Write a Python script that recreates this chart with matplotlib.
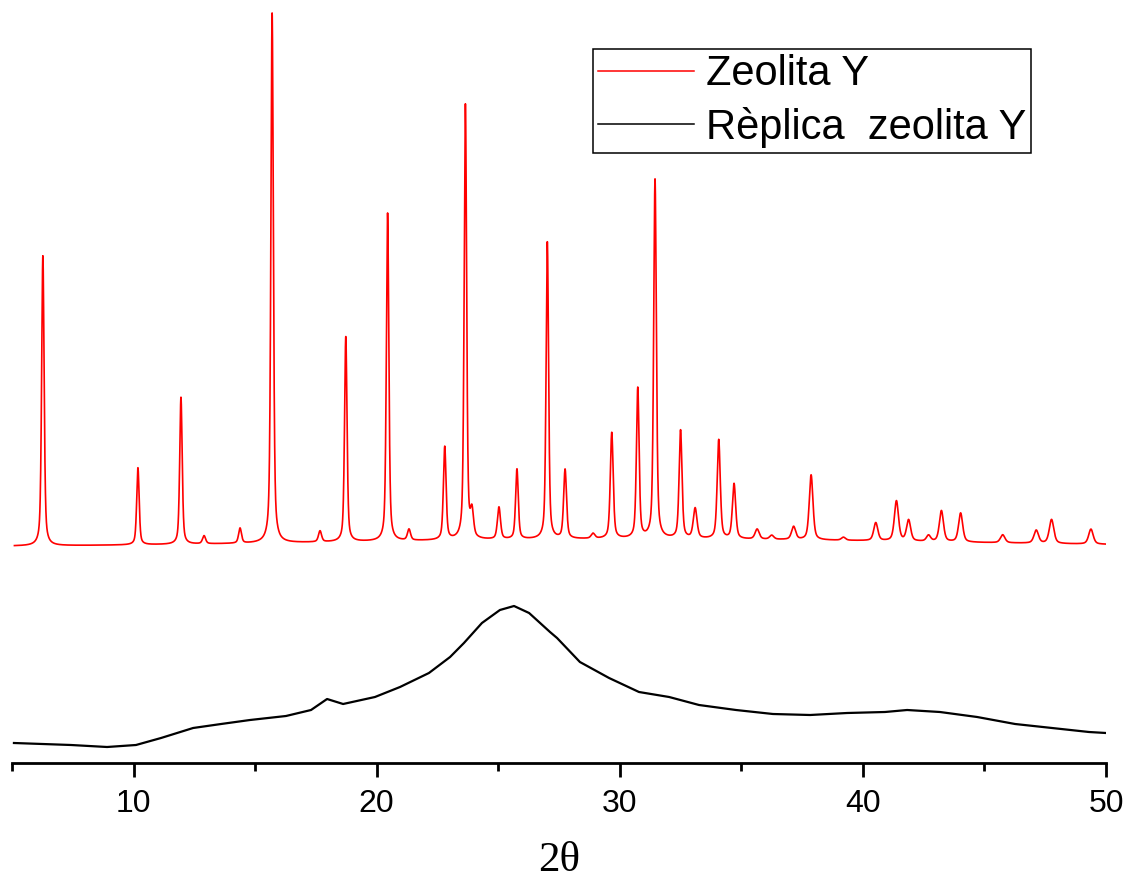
"""
XRD patterns: Zeolita Y vs Replica zeolita Y
"""

import numpy as np
import matplotlib

matplotlib.use("Agg")
import matplotlib.pyplot as plt

# Zeolita Y: peak list (2theta, height, FWHM)
zeo_pos = [6.27, 10.18, 11.95, 12.90, 14.38, 15.70, 17.67, 18.73, 20.45, 21.33,
           22.80, 23.65, 23.92, 25.03, 25.77, 27.02, 27.75, 28.90, 29.67, 30.74,
           31.45, 32.50, 33.10, 34.07, 34.70, 35.65, 36.25, 37.15, 37.87, 39.20,
           40.53, 41.38, 41.88, 42.70, 43.23, 44.02, 45.75, 47.13, 47.76, 49.38]
zeo_hgt = [290, 77, 147, 8, 15, 530, 11, 205, 328, 11,
           93, 435, 25, 32, 70, 297, 69, 5, 106, 150,
           359, 108, 30, 99, 55, 10, 4, 13, 65, 3,
           18, 40, 21, 6, 31, 29, 8, 13, 24, 15]
zeo_fwhm = [0.12, 0.12, 0.12, 0.15, 0.14, 0.12, 0.15, 0.12, 0.12, 0.15,
            0.13, 0.12, 0.15, 0.15, 0.13, 0.12, 0.14, 0.18, 0.14, 0.13,
            0.13, 0.14, 0.18, 0.15, 0.16, 0.2, 0.2, 0.2, 0.18, 0.2,
            0.2, 0.2, 0.2, 0.2, 0.2, 0.2, 0.22, 0.22, 0.22, 0.22]
zeo_base = 216      # flat background level of the offset red trace
zeo_hump = 8        # weak broad rise of that background
zeo_hump_pos = 31.0
zeo_hump_fwhm = 30.0

# Replica zeolita Y: amorphous trace read point by point
rep_x = [5.08, 7.43, 8.91, 10.10, 11.13, 12.45, 13.60, 14.79, 16.27, 17.30,
         17.96, 18.62, 19.93, 20.96, 22.15, 23.02, 23.59, 24.33, 25.07, 25.65,
         26.27, 27.13, 27.42, 28.36, 29.56, 30.79, 32.03, 33.26, 34.78, 36.30,
         37.83, 39.35, 40.91, 41.82, 43.17, 44.70, 46.26, 47.78, 49.30, 50.00]
rep_y = [20, 18, 16, 18, 25, 35, 39, 43, 47, 53,
         64, 59, 66, 76, 90, 106, 120, 140, 153, 157,
         150, 131, 125, 101, 85, 71, 66, 58, 53, 49,
         48, 50, 51, 53, 51, 46, 39, 35, 31, 30]

x_ticks = [10, 20, 30, 40, 50]
x_minor = [5, 15, 25, 35, 45]


def pseudo_voigt(x, pos, hgt, fwhm, eta=0.5):
    y = np.zeros_like(x)
    for p, h, w in zip(pos, hgt, fwhm):
        d = (x - p) / w
        g = np.exp(-4 * np.log(2) * d ** 2)
        l = 1.0 / (1.0 + 4 * d ** 2)
        y += h * (eta * l + (1 - eta) * g)
    return y


tt = np.arange(5.1, 50.0001, 0.005)
bg = zeo_base + zeo_hump * np.exp(-4 * np.log(2) * ((tt - zeo_hump_pos) / zeo_hump_fwhm) ** 2)
zeo_y = bg + pseudo_voigt(tt, zeo_pos, zeo_hgt, zeo_fwhm)

fig = plt.figure(figsize=(11.33, 8.84), dpi=100)
ax = fig.add_axes([12 / 1133, 121 / 884, 1094 / 1133, 763 / 884])

ax.plot(tt, zeo_y, color="#ff0000", lw=1.2, label="Zeolita Y")
ax.plot(rep_x, rep_y, color="black", lw=1.6, label="Rèplica  zeolita Y")

ax.set_xlim(5, 50)
ax.set_ylim(0, 763)
ax.set_xticks(x_ticks)
ax.set_xticks(x_minor, minor=True)
ax.set_yticks([])

for side in ("top", "left", "right"):
    ax.spines[side].set_visible(False)
ax.spines["bottom"].set_linewidth(2.0)

ax.tick_params(axis="x", which="major", length=10, width=2.0, direction="out",
               pad=9, labelsize=23)
ax.tick_params(axis="x", which="minor", length=5.5, width=2.0, direction="out")
for lab in ax.get_xticklabels():
    lab.set_fontfamily("Liberation Sans")

ax.set_xlabel("2θ", fontsize=31, family="Liberation Serif", labelpad=16)

leg = ax.legend(loc="upper left", bbox_to_anchor=(593 / 1133, 1 - 49 / 884),
                bbox_transform=fig.transFigure, borderaxespad=0,
                prop={"family": "Liberation Sans", "size": 30},
                handlelength=2.3, handletextpad=0.27, labelspacing=0.3,
                borderpad=0.13, fancybox=False, framealpha=1)
leg.get_frame().set_edgecolor("black")
leg.get_frame().set_linewidth(1.1)
for h in leg.get_lines():
    h.set_linewidth(1.1)

fig.savefig("out.png", dpi=100)
